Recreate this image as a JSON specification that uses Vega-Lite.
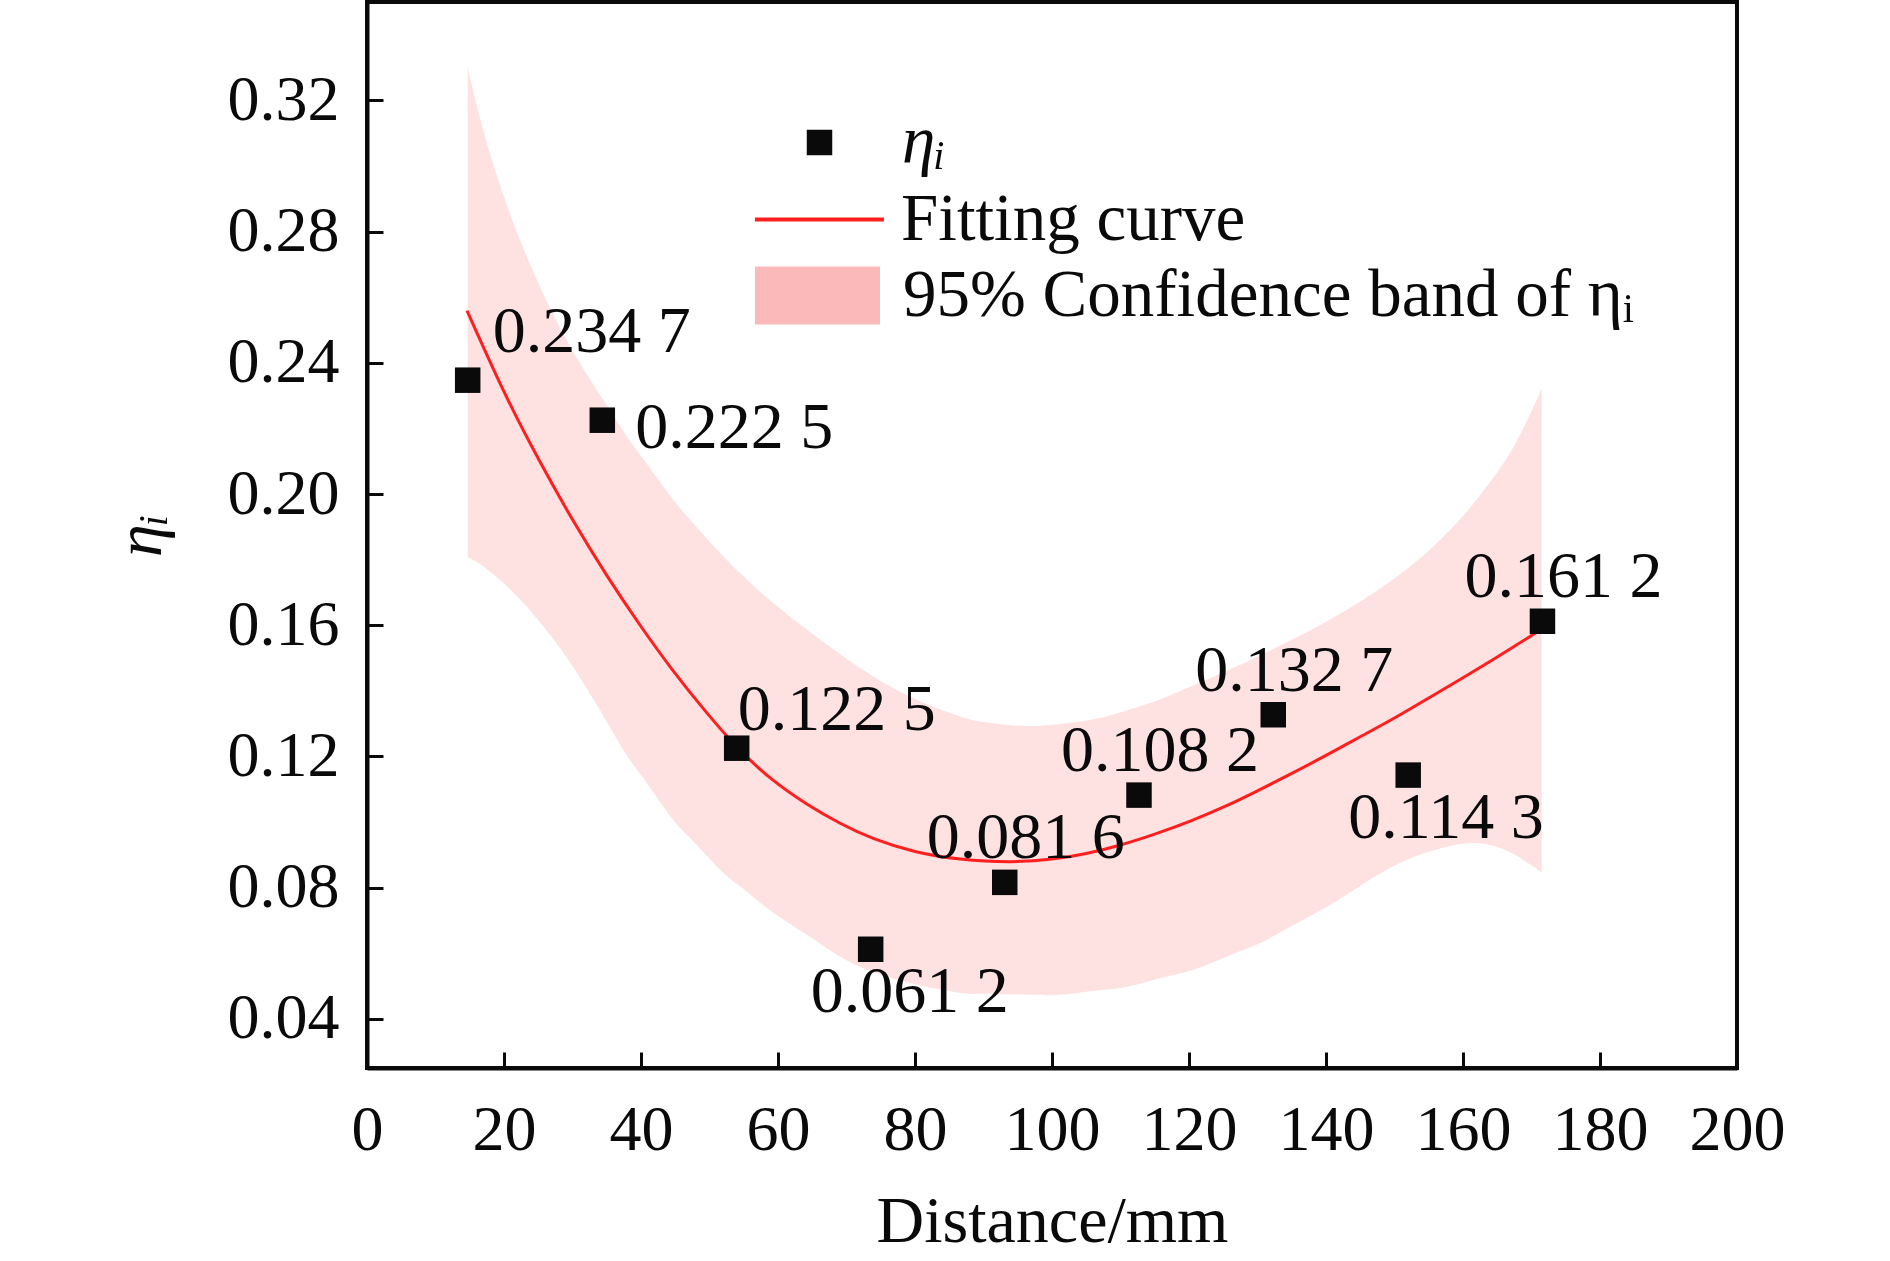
{
  "$schema": "https://vega.github.io/schema/vega-lite/v6.json",
  "autosize": "none",
  "width": 1370,
  "height": 1066,
  "padding": {"left": 367, "top": 2, "right": 153, "bottom": 193},
  "background": "white",
  "datasets": {
    "points": [
      {"x": 14.7, "y": 0.2347, "label": "0.234 7"},
      {"x": 34.35, "y": 0.2225, "label": "0.222 5"},
      {"x": 53.97, "y": 0.1225, "label": "0.122 5"},
      {"x": 73.53, "y": 0.0612, "label": "0.061 2"},
      {"x": 93.1, "y": 0.0816, "label": "0.081 6"},
      {"x": 112.7, "y": 0.1082, "label": "0.108 2"},
      {"x": 132.3, "y": 0.1327, "label": "0.132 7"},
      {"x": 152.0, "y": 0.1143, "label": "0.114 3"},
      {"x": 171.6, "y": 0.1612, "label": "0.161 2"}
    ],
    "fit": [
      {"x": 14.6, "y": 0.2559},
      {"x": 20, "y": 0.2312},
      {"x": 25, "y": 0.2108},
      {"x": 30, "y": 0.1922},
      {"x": 35, "y": 0.1752},
      {"x": 40, "y": 0.1596},
      {"x": 44.7, "y": 0.1461},
      {"x": 49.4, "y": 0.1338},
      {"x": 54, "y": 0.1229},
      {"x": 59, "y": 0.1132},
      {"x": 64.2, "y": 0.1055},
      {"x": 69, "y": 0.0997},
      {"x": 73.9, "y": 0.0950},
      {"x": 80, "y": 0.0910},
      {"x": 86.6, "y": 0.0887},
      {"x": 93.9, "y": 0.0879},
      {"x": 100, "y": 0.0887},
      {"x": 105, "y": 0.0904},
      {"x": 110, "y": 0.0930},
      {"x": 115, "y": 0.0963},
      {"x": 120, "y": 0.1001},
      {"x": 125, "y": 0.1045},
      {"x": 130, "y": 0.1095},
      {"x": 135, "y": 0.1148},
      {"x": 140, "y": 0.1203},
      {"x": 145, "y": 0.1260},
      {"x": 150, "y": 0.1317},
      {"x": 155, "y": 0.1378},
      {"x": 160, "y": 0.1440},
      {"x": 165, "y": 0.1503},
      {"x": 171.7, "y": 0.1591}
    ],
    "band": [
      {"x": 14.7, "lo": 0.1808, "hi": 0.3301},
      {"x": 17, "lo": 0.1779, "hi": 0.3107},
      {"x": 20, "lo": 0.1727, "hi": 0.2906},
      {"x": 23, "lo": 0.1664, "hi": 0.2740},
      {"x": 27, "lo": 0.1563, "hi": 0.2555},
      {"x": 31, "lo": 0.1443, "hi": 0.2402},
      {"x": 35, "lo": 0.1306, "hi": 0.2271},
      {"x": 38, "lo": 0.1201, "hi": 0.2173},
      {"x": 41, "lo": 0.1114, "hi": 0.2088},
      {"x": 44.7, "lo": 0.1006, "hi": 0.1983},
      {"x": 48, "lo": 0.0933, "hi": 0.1902},
      {"x": 52, "lo": 0.0845, "hi": 0.1810},
      {"x": 55, "lo": 0.0795, "hi": 0.1748},
      {"x": 59, "lo": 0.0728, "hi": 0.1673},
      {"x": 64, "lo": 0.0659, "hi": 0.1590},
      {"x": 69, "lo": 0.0590, "hi": 0.1513},
      {"x": 74, "lo": 0.0542, "hi": 0.1443},
      {"x": 80, "lo": 0.0505, "hi": 0.1375},
      {"x": 86.6, "lo": 0.0479, "hi": 0.1322},
      {"x": 90, "lo": 0.0476, "hi": 0.1305},
      {"x": 94, "lo": 0.0474, "hi": 0.1295},
      {"x": 97.5, "lo": 0.0473, "hi": 0.1293},
      {"x": 101, "lo": 0.0473, "hi": 0.1298},
      {"x": 106, "lo": 0.0485, "hi": 0.1313},
      {"x": 111, "lo": 0.0498, "hi": 0.1341},
      {"x": 116, "lo": 0.0525, "hi": 0.1376},
      {"x": 121, "lo": 0.0552, "hi": 0.1420},
      {"x": 126, "lo": 0.0594, "hi": 0.1466},
      {"x": 130.4, "lo": 0.0631, "hi": 0.1508},
      {"x": 135, "lo": 0.0683, "hi": 0.1556},
      {"x": 140, "lo": 0.0740, "hi": 0.1610},
      {"x": 145, "lo": 0.0805, "hi": 0.1672},
      {"x": 149, "lo": 0.0856, "hi": 0.1728},
      {"x": 153.7, "lo": 0.0900, "hi": 0.1803},
      {"x": 158, "lo": 0.0926, "hi": 0.1888},
      {"x": 161, "lo": 0.0936, "hi": 0.1957},
      {"x": 164, "lo": 0.0930, "hi": 0.2038},
      {"x": 167.6, "lo": 0.0900, "hi": 0.2152},
      {"x": 171.5, "lo": 0.0845, "hi": 0.2321}
    ]
  },
  "encoding": {
    "x": {
      "field": "x",
      "type": "quantitative",
      "scale": {"domain": [0, 200], "nice": false},
      "axis": {
        "title": "Distance/mm",
        "values": [0, 20, 40, 60, 80, 100, 120, 140, 160, 180, 200],
        "labelPadding": 46,
        "titleX": 685,
        "titleY": 173,
        "titleBaseline": "alphabetic",
        "titleAlign": "center",
        "titleFontSize": 66
      }
    }
  },
  "layer": [
    {
      "data": {"name": "band"},
      "mark": {"type": "area", "interpolate": "natural", "fillOpacity": 0.41},
      "encoding": {
        "y": {
          "field": "lo",
          "type": "quantitative",
          "scale": {"domain": [0.025, 0.35], "nice": false, "zero": false},
          "axis": {
            "title": "ηᵢ",
            "values": [0.04, 0.08, 0.12, 0.16, 0.2, 0.24, 0.28, 0.32],
            "format": ".2f",
            "labelPadding": 44,
            "titleAngle": -90,
            "titleX": -207,
            "titleY": 533,
            "titleAlign": "center",
            "titleBaseline": "alphabetic",
            "titleFontStyle": "italic",
            "titleFontSize": 66
          }
        },
        "y2": {"field": "hi"},
        "fill": {
          "datum": "95% Confidence band of ηᵢ",
          "type": "nominal",
          "scale": {"range": ["#fcb9b9"]},
          "legend": {
            "orient": "none",
            "legendX": 388,
            "legendY": 231,
            "title": null,
            "padding": 0,
            "symbolType": "M-1,-0.464L1,-0.464L1,0.464L-1,0.464Z",
            "symbolSize": 15625,
            "symbolOpacity": 1,
            "symbolStrokeWidth": 0,
            "labelOffset": 23,
            "encode": {
              "symbols": {"update": {"fill": {"value": "#ffbcbc"}, "fillOpacity": {"value": 1}, "opacity": {"value": 1}}}
            }
          }
        }
      }
    },
    {
      "data": {"name": "fit"},
      "mark": {"type": "line", "interpolate": "natural", "strokeWidth": 3},
      "encoding": {
        "y": {"field": "y", "type": "quantitative"},
        "stroke": {
          "datum": "Fitting curve",
          "type": "nominal",
          "scale": {"range": ["#ff1f1f"]},
          "legend": {
            "orient": "none",
            "legendX": 386,
            "legendY": 151,
            "title": null,
            "padding": 0,
            "symbolType": "stroke",
            "symbolSize": 16641,
            "symbolStrokeWidth": 4,
            "labelOffset": 15
          }
        }
      }
    },
    {
      "data": {"name": "points"},
      "mark": {"type": "point", "filled": true, "opacity": 1, "size": 650, "color": "#0a0a0a"},
      "encoding": {
        "y": {"field": "y", "type": "quantitative"},
        "shape": {
          "datum": "ηᵢ",
          "type": "nominal",
          "scale": {"range": ["square"]},
          "legend": {
            "orient": "none",
            "legendX": 419,
            "legendY": 107,
            "title": null,
            "padding": 0,
            "symbolSize": 650,
            "symbolFillColor": "#0a0a0a",
            "symbolStrokeWidth": 0,
            "symbolOpacity": 1,
            "labelOffset": 49,
            "labelFontStyle": "italic"
          }
        }
      }
    },
    {
      "data": {"name": "points"},
      "transform": [{"filter": {"field": "label", "equal": "0.234 7"}}],
      "mark": {"type": "text", "align": "left", "baseline": "alphabetic", "dx": 25, "dy": -28},
      "encoding": {"y": {"field": "y", "type": "quantitative"}, "text": {"field": "label"}}
    },
    {
      "data": {"name": "points"},
      "transform": [{"filter": {"field": "label", "equal": "0.222 5"}}],
      "mark": {"type": "text", "align": "left", "baseline": "alphabetic", "dx": 33, "dy": 28},
      "encoding": {"y": {"field": "y", "type": "quantitative"}, "text": {"field": "label"}}
    },
    {
      "data": {"name": "points"},
      "transform": [{"filter": {"field": "label", "equal": "0.122 5"}}],
      "mark": {"type": "text", "align": "left", "baseline": "alphabetic", "dx": 1, "dy": -18},
      "encoding": {"y": {"field": "y", "type": "quantitative"}, "text": {"field": "label"}}
    },
    {
      "data": {"name": "points"},
      "transform": [{"filter": {"field": "label", "oneOf": ["0.081 6", "0.108 2", "0.132 7", "0.161 2"]}}],
      "mark": {"type": "text", "align": "left", "baseline": "alphabetic", "dx": -78, "dy": -24},
      "encoding": {"y": {"field": "y", "type": "quantitative"}, "text": {"field": "label"}}
    },
    {
      "data": {"name": "points"},
      "transform": [{"filter": {"field": "label", "oneOf": ["0.061 2", "0.114 3"]}}],
      "mark": {"type": "text", "align": "left", "baseline": "alphabetic", "dx": -60, "dy": 63},
      "encoding": {"y": {"field": "y", "type": "quantitative"}, "text": {"field": "label"}}
    }
  ],
  "config": {
    "font": "Liberation Serif",
    "view": {"stroke": "#0a0a0a", "strokeWidth": 4},
    "text": {"font": "Liberation Serif", "fontSize": 66, "color": "#0a0a0a"},
    "axis": {
      "grid": false,
      "domainColor": "#0a0a0a",
      "domainWidth": 4,
      "tickColor": "#0a0a0a",
      "tickWidth": 3,
      "tickSize": -16,
      "labelFont": "Liberation Serif",
      "labelFontSize": 64,
      "labelColor": "#0a0a0a",
      "labelFlush": false,
      "labelOverlap": false,
      "titleFont": "Liberation Serif",
      "titleFontWeight": "normal",
      "titleColor": "#0a0a0a"
    },
    "legend": {
      "labelFont": "Liberation Serif",
      "labelFontSize": 67,
      "labelColor": "#0a0a0a",
      "labelLimit": 0
    }
  }
}
